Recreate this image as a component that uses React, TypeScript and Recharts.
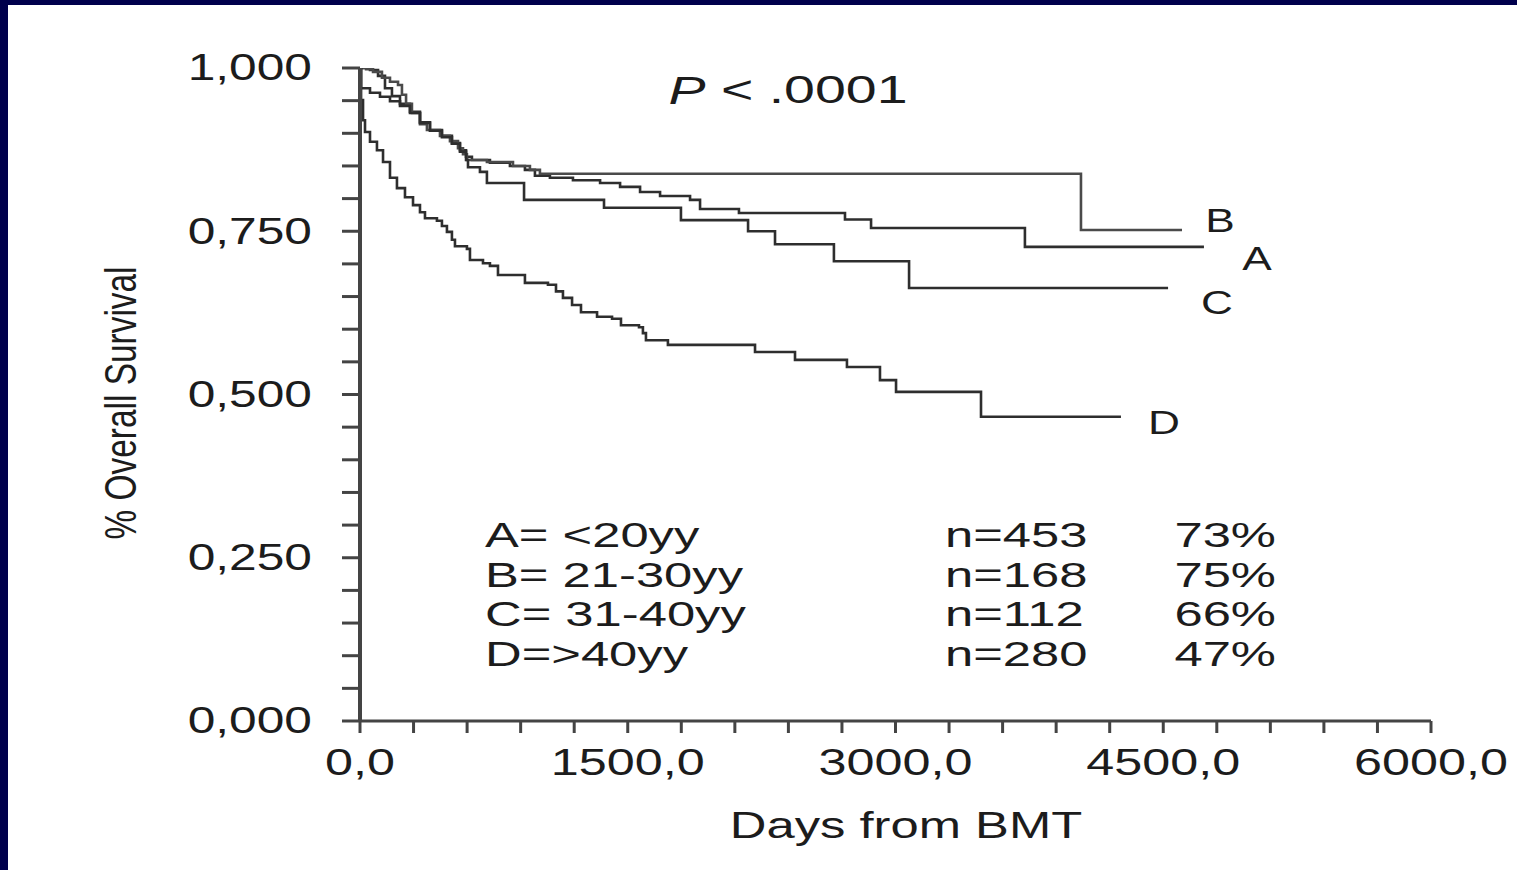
import React from 'react';
import { LineChart, Line, XAxis, YAxis } from 'recharts';

// ---- data ----
const aDays = [0, 56, 101, 140, 179, 224, 280, 336, 392, 459, 515, 560, 594, 627, 728, 840, 924, 980, 1064, 1193, 1345, 1457, 1569, 1681, 1849, 1905, 2123, 2717, 2863, 3725, 4728];
const aSurv = [1.0, 0.997, 0.988, 0.969, 0.957, 0.945, 0.933, 0.917, 0.905, 0.896, 0.885, 0.874, 0.864, 0.859, 0.855, 0.85, 0.844, 0.835, 0.832, 0.828, 0.824, 0.818, 0.81, 0.804, 0.798, 0.784, 0.778, 0.768, 0.755, 0.726, 0.726];

const bDays = [0, 34, 73, 123, 168, 213, 235, 258, 291, 336, 375, 448, 504, 549, 577, 599, 711, 857, 952, 1008, 4039, 4605];
const bSurv = [1.0, 0.998, 0.994, 0.985, 0.979, 0.974, 0.959, 0.945, 0.931, 0.914, 0.905, 0.896, 0.888, 0.877, 0.868, 0.859, 0.856, 0.85, 0.844, 0.838, 0.752, 0.752];

const cDays = [0, 6, 56, 112, 168, 224, 280, 336, 392, 459, 515, 560, 594, 605, 672, 711, 919, 1367, 1798, 2174, 2325, 2655, 3076, 4527];
const cSurv = [1.0, 0.969, 0.962, 0.956, 0.949, 0.942, 0.931, 0.916, 0.904, 0.894, 0.884, 0.872, 0.859, 0.848, 0.841, 0.824, 0.798, 0.786, 0.767, 0.75, 0.73, 0.704, 0.663, 0.663];

const dDays = [0, 6, 17, 28, 56, 95, 129, 168, 207, 252, 297, 336, 364, 431, 459, 487, 515, 532, 599, 616, 689, 728, 773, 924, 1053, 1098, 1137, 1188, 1238, 1328, 1412, 1462, 1563, 1585, 1602, 1725, 2213, 2437, 2728, 2913, 3003, 3479, 4263];
const dSurv = [1.0, 0.951, 0.92, 0.902, 0.887, 0.874, 0.856, 0.832, 0.816, 0.802, 0.79, 0.779, 0.77, 0.766, 0.758, 0.749, 0.737, 0.727, 0.723, 0.706, 0.701, 0.697, 0.683, 0.671, 0.668, 0.658, 0.648, 0.637, 0.626, 0.619, 0.616, 0.606, 0.603, 0.594, 0.583, 0.576, 0.565, 0.553, 0.542, 0.522, 0.504, 0.466, 0.466];

const xTicks = [0, 300, 600, 900, 1200, 1500, 1800, 2100, 2400, 2700, 3000, 3300, 3600, 3900, 4200, 4500, 4800, 5100, 5400, 5700, 6000];
const xLabelTicks = [0, 1500, 3000, 4500, 6000];
const xTickLabels = ['0,0', '1500,0', '3000,0', '4500,0', '6000,0'];

const yTicks = [0, 0.05, 0.1, 0.15, 0.2, 0.25, 0.3, 0.35, 0.4, 0.45, 0.5, 0.55, 0.6, 0.65, 0.7, 0.75, 0.8, 0.85, 0.9, 0.95, 1.0];
const yLabelTicks = [0, 0.25, 0.5, 0.75, 1.0];
const yTickLabels = ['0,000', '0,250', '0,500', '0,750', '1,000'];

const curveNames = ['A', 'B', 'C', 'D'];
const groupLabels = ['A= <20yy', 'B= 21-30yy', 'C= 31-40yy', 'D=>40yy'];
const groupN = ['n=453', 'n=168', 'n=112', 'n=280'];
const groupPct = ['73%', '75%', '66%', '47%'];

const build = (days: number[], surv: number[]) => days.map((d, i) => ({ day: d, s: surv[i] }));
const seriesData = [build(aDays, aSurv), build(bDays, bSurv), build(cDays, cSurv), build(dDays, dSurv)];

// ---- style ----
const FONT = '"Liberation Sans", Arial, Helvetica, sans-serif';
const INK = '#1c1c1c';
const AXIS = '#444';
const NAVY = '#00004c';

function SText(props: { x: number; y: number; size: number; sx?: number; anchor?: string; children: any }) {
  const { x, y, size, sx = 1.38, anchor = 'middle', children } = props;
  return (
    <text
      transform={`translate(${x},${y}) scale(${sx},1)`}
      textAnchor={anchor}
      dominantBaseline="central"
      fontFamily={FONT}
      fontSize={size}
      fill={INK}
    >
      {children}
    </text>
  );
}

function XTick(props: any) {
  const { x, y, payload } = props;
  const idx = xLabelTicks.findIndex((t) => Math.abs(t - payload.value) < 1e-6);
  if (idx < 0) return <g />;
  return <SText x={x} y={y} size={37} sx={1.36}>{xTickLabels[idx]}</SText>;
}

function YTick(props: any) {
  const { x, y, payload } = props;
  const idx = yLabelTicks.findIndex((t) => Math.abs(t - payload.value) < 1e-6);
  if (idx < 0) return <g />;
  return <SText x={x} y={y} size={36} sx={1.38} anchor="end">{yTickLabels[idx]}</SText>;
}

const curveLabelPos = [
  { x: 1257, y: 258 },
  { x: 1220, y: 220 },
  { x: 1217, y: 302 },
  { x: 1164, y: 422 },
];
const legendRowsY = [535, 575, 614, 654];

export default function App() {
  return (
    <div style={{ position: 'fixed', left: 0, top: 0, width: 1517, height: 870, background: '#ffffff', overflow: 'hidden' }}>
      <div style={{ position: 'absolute', left: 0, top: 0, width: 1517, height: 5, background: NAVY }} />
      <div style={{ position: 'absolute', left: 0, top: 0, width: 8, height: 870, background: NAVY }} />
      <div style={{ position: 'absolute', left: 0, top: 0 }}>
        <LineChart width={1517} height={870} margin={{ top: 68, right: 86, bottom: 49, left: 160 }}>
          <XAxis
            type="number"
            dataKey="day"
            domain={[0, 6000]}
            ticks={xTicks}
            interval={0}
            height={100}
            tickSize={12}
            tickMargin={29}
            tick={<XTick />}
            axisLine={{ stroke: AXIS, strokeWidth: 3 }}
            tickLine={{ stroke: AXIS, strokeWidth: 3 }}
            allowDataOverflow
          />
          <YAxis
            type="number"
            domain={[0, 1]}
            ticks={yTicks}
            interval={0}
            width={200}
            tickSize={18}
            tickMargin={30}
            tick={<YTick />}
            axisLine={{ stroke: AXIS, strokeWidth: 4 }}
            tickLine={{ stroke: AXIS, strokeWidth: 3 }}
            allowDataOverflow
          />
          {seriesData.map((d, i) => (
            <Line
              key={curveNames[i]}
              data={d}
              dataKey="s"
              name={curveNames[i]}
              type="stepAfter"
              stroke={i === 1 ? '#4a4a4a' : '#2e2e2e'}
              strokeWidth={2.6}
              dot={false}
              activeDot={false}
              isAnimationActive={false}
            />
          ))}
        </LineChart>
      </div>
      <svg width={1517} height={870} style={{ position: 'absolute', left: 0, top: 0, pointerEvents: 'none' }}>
        <text
          transform="translate(121,403) rotate(-90) scale(0.76,1)"
          textAnchor="middle"
          dominantBaseline="central"
          fontFamily={FONT}
          fontSize={44}
          fill={INK}
        >
          % Overall Survival
        </text>
        <SText x={906} y={825} size={36} sx={1.41}>Days from BMT</SText>
        <text
          transform="translate(788,90) scale(1.46,1)"
          textAnchor="middle"
          dominantBaseline="central"
          fontFamily={FONT}
          fontSize={38}
          fill={INK}
        >
          <tspan fontStyle="italic">P</tspan> &lt; .0001
        </text>
        {curveNames.map((n, i) => (
          <SText key={n} x={curveLabelPos[i].x} y={curveLabelPos[i].y} size={34} sx={1.3}>{n}</SText>
        ))}
        {groupLabels.map((g, i) => (
          <g key={g}>
            <SText x={485} y={legendRowsY[i]} size={35} sx={1.45} anchor="start">{g}</SText>
            <SText x={945} y={legendRowsY[i]} size={35} sx={1.45} anchor="start">{groupN[i]}</SText>
            <SText x={1276} y={legendRowsY[i]} size={35} sx={1.45} anchor="end">{groupPct[i]}</SText>
          </g>
        ))}
      </svg>
    </div>
  );
}
